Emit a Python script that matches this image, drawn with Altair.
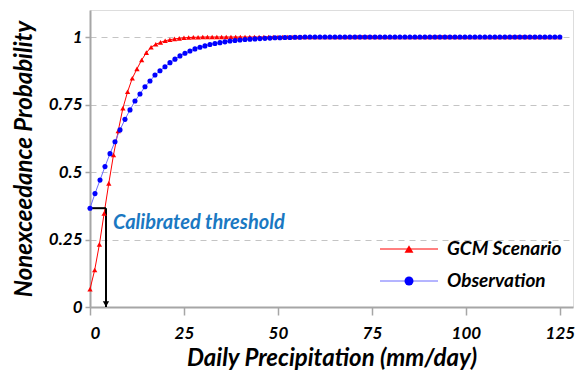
import altair as alt
import pandas as pd

# ---- data ----
gcm_step = 1.25
gcm_y = [0.066, 0.137, 0.232, 0.346, 0.458, 0.563, 0.652, 0.736, 0.797, 0.847,
         0.882, 0.915, 0.942, 0.962, 0.973, 0.980, 0.986, 0.990, 0.993, 0.995,
         0.997, 0.998, 0.999, 0.999] + [1.0] * 77

obs_step = 125 / 94
obs_y = [0.366, 0.420, 0.470, 0.520, 0.568, 0.612, 0.656, 0.695, 0.730, 0.763,
         0.789, 0.816, 0.837, 0.859, 0.875, 0.890, 0.905, 0.918, 0.930, 0.940,
         0.948, 0.956, 0.962, 0.967, 0.972, 0.976, 0.979, 0.982, 0.985, 0.987,
         0.989, 0.991, 0.992, 0.993, 0.994, 0.995, 0.996, 0.997, 0.997, 0.998,
         0.998, 0.999, 0.999] + [1.0] * 52

x_ticks = [0, 25, 50, 75, 100, 125]
y_ticks = [0, 0.25, 0.5, 0.75, 1]
threshold_x = [4.25]
threshold_p = [0.366]
label_text = ["Calibrated threshold"]
series_names = ["GCM Scenario", "Observation"]

gcm = pd.DataFrame({"x": [i * gcm_step for i in range(len(gcm_y))], "y": gcm_y})
obs = pd.DataFrame({"x": [i * obs_step for i in range(len(obs_y))], "y": obs_y})

FONT = "Lato"
RED = "#ff0000"
BLUE = "#0000ff"
OBS_LINE = "#6b6bff"
TXT_BLUE = "#1a78c2"

xs = alt.Scale(domain=[0, 128.5], nice=False, zero=False)
ys = alt.Scale(domain=[0, 1.1], nice=False)

xax = alt.Axis(values=x_ticks, format="d", grid=False, title="Daily Precipitation (mm/day)",
               domainColor="#a6a6a6", domainWidth=2, tickColor="#a6a6a6", tickSize=8, tickWidth=1.5,
               labelFont=FONT, labelFontSize=17, labelFontStyle="italic", labelFontWeight="bold",
               labelColor="black", labelPadding=10,
               titleFont=FONT, titleFontSize=24, titleFontStyle="italic", titleFontWeight="bold",
               titleColor="black", titlePadding=5)
yax = alt.Axis(values=y_ticks, format="~g", grid=True, gridDash=[6, 5], gridColor="#c4c4c4",
               title="Nonexceedance Probability",
               domainColor="#a6a6a6", domainWidth=2, tickColor="#a6a6a6", tickSize=5, tickWidth=1.5,
               labelFont=FONT, labelFontSize=17, labelFontStyle="italic", labelFontWeight="bold",
               labelColor="black", labelPadding=3,
               titleFont=FONT, titleFontSize=24, titleFontStyle="italic", titleFontWeight="bold",
               titleColor="black", titlePadding=12)

X = alt.X("x:Q", scale=xs, axis=xax)
Y = alt.Y("y:Q", scale=ys, axis=yax)

gcm_line = alt.Chart(gcm).mark_line(color=RED, strokeWidth=1).encode(x=X, y=Y)
gcm_pts = alt.Chart(gcm).mark_point(shape="triangle-up", filled=True, color=RED, size=28, opacity=1).encode(x=X, y=Y)
obs_line = alt.Chart(obs).mark_line(color=OBS_LINE, strokeWidth=1).encode(x=X, y=Y)
obs_pts = alt.Chart(obs).mark_point(shape="circle", filled=True, color=BLUE, size=26, opacity=1).encode(x=X, y=Y)

ann = pd.DataFrame({"x0": [0.0], "x": threshold_x, "y": threshold_p, "y0": [0.0],
                    "label": label_text, "tx": [6.1], "ty": [0.31]})
h_rule = alt.Chart(ann).mark_rule(color="black", strokeWidth=2).encode(
    x=alt.X("x0:Q", scale=xs), x2="x:Q", y=alt.Y("y:Q", scale=ys))
v_rule = alt.Chart(ann).mark_rule(color="black", strokeWidth=2).encode(
    x=alt.X("x:Q", scale=xs), y=alt.Y("y:Q", scale=ys), y2="y0:Q")
arrow = alt.Chart(ann).mark_point(shape="triangle-down", filled=True, color="black", size=40, opacity=1).encode(
    x=alt.X("x:Q", scale=xs), y=alt.Y("y0:Q", scale=ys), yOffset=alt.value(-3))
ann_text = alt.Chart(ann).mark_text(align="left", baseline="middle", font=FONT, fontSize=20,
                                    fontStyle="italic", fontWeight="bold", color=TXT_BLUE).encode(
    x=alt.X("tx:Q", scale=xs), y=alt.Y("ty:Q", scale=ys), text="label:N")

# ---- in-plot legend ----
leg = alt.Chart(pd.DataFrame({"k": [0]}))
legend_layers = []
for name, col, lcol, shape, ypix in [(series_names[0], RED, RED, "triangle-up", 239),
                                      (series_names[1], BLUE, OBS_LINE, "circle", 271)]:
    legend_layers.append(leg.mark_rule(color=lcol, strokeWidth=1).encode(
        x=alt.value(290), x2=alt.value(348), y=alt.value(ypix)))
    legend_layers.append(leg.mark_point(shape=shape, filled=True, color=col, size=80, opacity=1).encode(
        x=alt.value(319), y=alt.value(ypix)))
    legend_layers.append(leg.mark_text(align="left", baseline="middle", font=FONT, fontSize=19,
                                       fontStyle="italic", fontWeight="bold", color="black", text=name).encode(
        x=alt.value(357), y=alt.value(ypix)))

chart = alt.layer(gcm_line, obs_line, h_rule, v_rule, arrow, gcm_pts, obs_pts, ann_text,
                  *legend_layers).properties(
    width=483, height=297,
    padding={"left": 90, "top": 10, "right": 8, "bottom": 67},
    autosize=alt.AutoSizeParams(type="none"),
).configure_view(stroke="#d0d0d0", strokeWidth=1).configure(background="white")

chart.save("out.html", embed_options={"renderer": "svg", "actions": False})
